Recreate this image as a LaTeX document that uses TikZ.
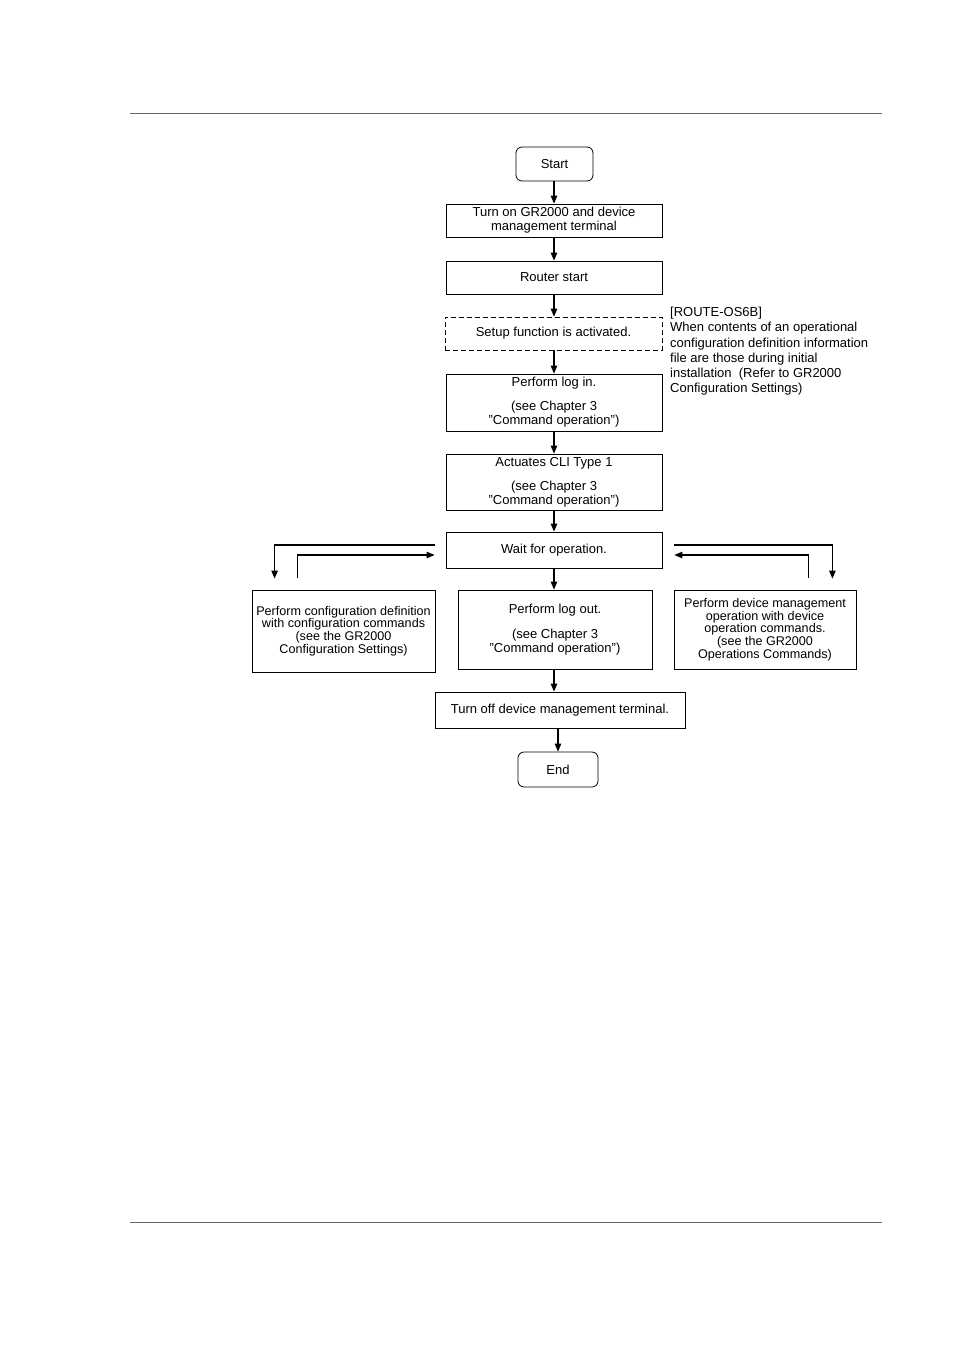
\documentclass[tikz,border=0pt]{standalone}
\usepackage{fontspec}
\setmainfont{Liberation Sans}
\usetikzlibrary{arrows.meta}
\newcommand{\dq}{\symbol{34}}
\begin{document}
\begin{tikzpicture}[x=1pt,y=-1pt,
  every node/.style={font=\fontsize{13}{14}\selectfont},
  box/.style={draw, line width=0.8pt, inner sep=0pt, align=center},
  term/.style={box, rounded corners=6pt},
  dbox/.style={box, dashed, dash pattern=on 5pt off 3pt},
  arr/.style={line width=1.1pt, -{Triangle[length=8pt,width=6.5pt]}},
  rule/.style={draw=black!60, line width=0.7pt}]
\useasboundingbox (0,0) rectangle (954,1350);
\fill[white] (0,0) rectangle (954,1350);
\draw[rule] (130,113) -- (882,113);
\draw[rule] (130,1222) -- (882,1222);

\node[term, minimum width=77pt, minimum height=34pt] (start) at (554.5,164) {Start};
\node[box, minimum width=216pt, minimum height=33pt] (on) at (554,220.5)
  {Turn on GR2000 and device\\management terminal};
\node[box, minimum width=216pt, minimum height=33pt] (router) at (554,277.5) {Router start};
\node[dbox, minimum width=217pt, minimum height=33pt] (setup) at (553.5,333.5) {Setup function is activated.};
\node[box, minimum width=216pt, minimum height=57pt] (login) at (554,402.5)
  {Perform log in.\\[10pt](see Chapter 3\\\dq Command operation\dq)};
\node[box, minimum width=216pt, minimum height=56pt] (cli) at (554,482)
  {Actuates CLI Type 1\\[10pt](see Chapter 3\\\dq Command operation\dq)};
\node[box, minimum width=216pt, minimum height=36pt] (wait) at (554,550) {Wait for operation.};
\node[box, minimum width=183pt, minimum height=82pt, font=\fontsize{12.6}{12.8}\selectfont] (cfg) at (343.5,631)
  {Perform configuration definition\\with configuration commands\\(see the GR2000\\Configuration Settings)};
\node[box, minimum width=194pt, minimum height=79pt] (logout) at (555,629.5)
  {Perform log out.\\[11pt](see Chapter 3\\\dq Command operation\dq)};
\node[box, minimum width=182pt, minimum height=79pt, font=\fontsize{12.6}{12.7}\selectfont] (dev) at (765,629.5)
  {Perform device management\\operation with device\\operation commands.\\(see the GR2000\\Operations Commands)};
\node[box, minimum width=250pt, minimum height=36pt] (off) at (560,710) {Turn off device management terminal.};
\node[term, minimum width=80pt, minimum height=35pt] (end) at (558,769.5) {End};

\node[anchor=north west, inner sep=0pt, align=left, font=\fontsize{13}{15.2}\selectfont] (note) at (670,307)
  {[ROUTE-OS6B]\\When contents of an operational\\configuration definition information\\file are those during initial\\installation\ \ (Refer to GR2000\\Configuration Settings)};

\draw[arr] (start.south -| on.north) -- (on.north);
\draw[arr] (on) -- (router);
\draw[arr] (router) -- (setup.north -| router.south);
\draw[arr] (setup.south -| login.north) -- (login);
\draw[arr] (login) -- (cli);
\draw[arr] (cli) -- (wait);
\draw[arr] (wait.south) -- (wait.south |- logout.north);
\draw[arr] (logout.south -| wait.south) -- (off.north -| wait.south);
\draw[arr] (off.south -| end.north) -- (end.north);

\draw[arr] ([shift={(-11pt,5pt)}]wait.west) -| ([shift={(23pt,11pt)}]cfg.north west);
\draw[arr] ([shift={(46pt,12pt)}]cfg.north west) |- ([shift={(-11pt,-5pt)}]wait.west);
\draw[arr] ([shift={(12pt,5pt)}]wait.east) -| ([shift={(-24pt,11pt)}]dev.north east);
\draw[arr] ([shift={(-48pt,12pt)}]dev.north east) |- ([shift={(12pt,-5pt)}]wait.east);
\end{tikzpicture}
\end{document}
